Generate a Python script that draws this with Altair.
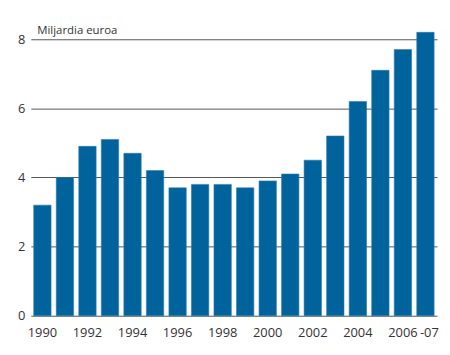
import altair as alt
import pandas as pd

years = [str(y) for y in range(1990, 2008)]
values = [3.2, 4.0, 4.9, 5.1, 4.7, 4.2, 3.7, 3.8, 3.8, 3.7, 3.9, 4.1, 4.5, 5.2, 6.2, 7.1, 7.7, 8.2]
y_ticks = [0, 2, 4, 6, 8]
unit_label = "Miljardia euroa"

df = pd.DataFrame({"year": years, "value": values})

FONT = "Open Sans"
TXT = "#333333"

chart = alt.Chart(df).mark_bar(color="#00639c", stroke="#2a7bb0", strokeWidth=0.6).encode(
    x=alt.X("year:N", sort=years,
            scale=alt.Scale(paddingInner=0.23, paddingOuter=0.13),
            axis=alt.Axis(title=None, labelAngle=0, domain=False, ticks=False,
                          labelPadding=11, labelFont=FONT, labelFontSize=13,
                          labelColor=TXT, labelOverlap=False,
                          labelOffset={"condition": {"test": "datum.value == '2007'", "value": 4}, "value": 0},
                          labelExpr="datum.value == '2007' ? '-07' : (toNumber(datum.value) % 2 == 0 ? datum.value : '')")),
    y=alt.Y("value:Q",
            scale=alt.Scale(domain=[0, 8.4], nice=False),
            axis=alt.Axis(values=y_ticks, title=unit_label, titleAngle=0, titleAlign="left",
                          titleBaseline="alphabetic", titleX=6, titleY=8,
                          titleFont=FONT, titleFontSize=11.5, titleFontWeight="normal",
                          titleColor=TXT, domain=False, ticks=False, labelPadding=6,
                          labelFont=FONT, labelFontSize=13, labelColor=TXT,
                          grid=True, gridColor="#555555", gridWidth=1, gridOpacity=1)),
).properties(
    width=410, height=293,
    autosize=alt.AutoSizeParams(type="none"),
    padding={"left": 23, "top": 16, "right": 5, "bottom": 30},
).configure_view(stroke=None)

chart.save("out.html", embed_options={"renderer": "svg", "actions": False})
